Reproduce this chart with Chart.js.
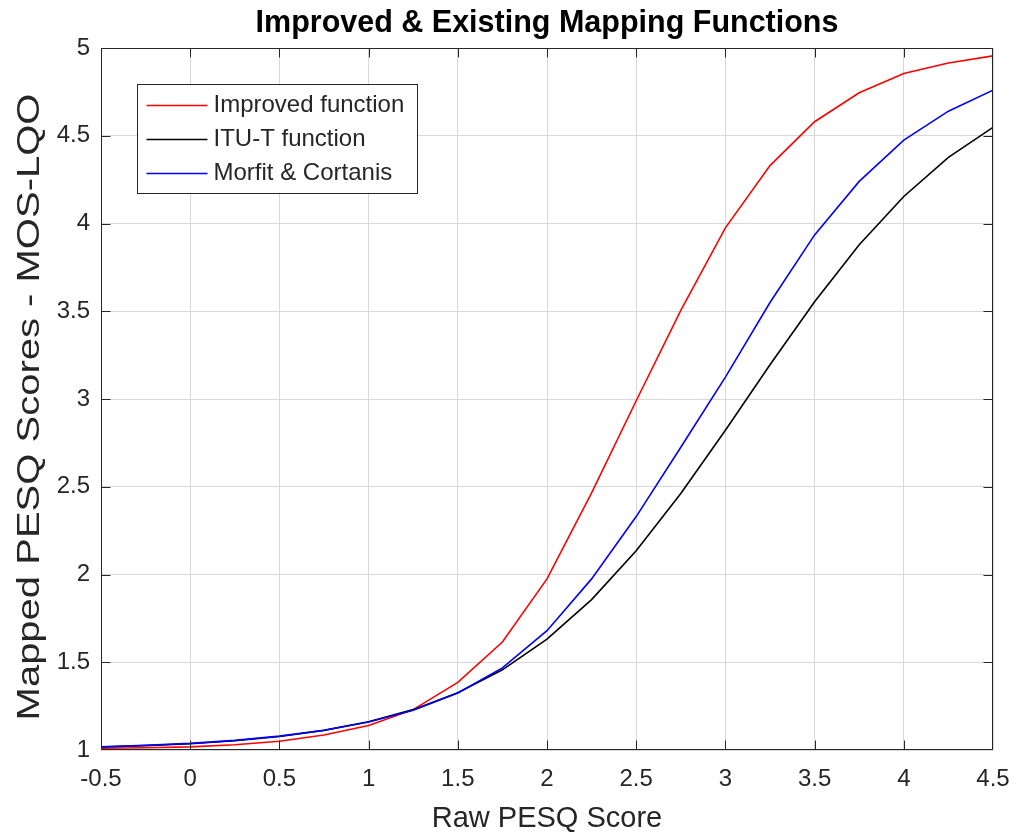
<!DOCTYPE html>
<html>
<head>
<meta charset="utf-8">
<script src="https://cdn.jsdelivr.net/npm/chart.js@4.4.1/dist/chart.umd.min.js"></script>
<style>
  html, body { margin: 0; padding: 0; background: #ffffff; }
  canvas { display: block; }
</style>
</head>
<body>
<canvas id="chart" width="1018" height="840"></canvas>
<script>
// Raw PESQ scores (x) and the mapped MOS-LQO values of each mapping function
const rawPesq = [-0.5, -0.25, 0, 0.25, 0.5, 0.75, 1, 1.25, 1.5, 1.75, 2, 2.25, 2.5, 2.75, 3, 3.25, 3.5, 3.75, 4, 4.25, 4.5];
const improvedMos = [1.010, 1.013, 1.018, 1.030, 1.050, 1.085, 1.140, 1.230, 1.385, 1.615, 1.975, 2.465, 2.990, 3.505, 3.975, 4.330, 4.580, 4.745, 4.855, 4.915, 4.955];
const ituMos      = [1.017, 1.025, 1.036, 1.053, 1.077, 1.112, 1.161, 1.230, 1.326, 1.457, 1.632, 1.857, 2.135, 2.462, 2.822, 3.195, 3.554, 3.879, 4.154, 4.377, 4.548];
const morfitMos   = [1.018, 1.027, 1.038, 1.055, 1.079, 1.113, 1.160, 1.226, 1.325, 1.468, 1.680, 1.975, 2.330, 2.725, 3.125, 3.550, 3.935, 4.240, 4.475, 4.640, 4.760];

const seriesNames  = ['Improved function', 'ITU-T function', 'Morfit & Cortanis'];
const seriesColors = ['#ff0000', '#000000', '#0000ff'];

const xTickValues = [-0.5, 0, 0.5, 1, 1.5, 2, 2.5, 3, 3.5, 4, 4.5];
const yTickValues = [1, 1.5, 2, 2.5, 3, 3.5, 4, 4.5, 5];

const FONT = '"Liberation Sans", Arial, Helvetica, sans-serif';
const TEXT_COLOR = '#262626';

function toPoints(ys) {
  return rawPesq.map((x, i) => ({ x: x, y: ys[i] }));
}

// Axes box with inward tick marks on all four sides
const frameBox = {
  id: 'frameBox',
  afterDatasetsDraw(chart) {
    const { ctx, chartArea: a, scales: { x, y } } = chart;
    const L = Math.round(a.left) + 0.5, R = Math.round(a.right) - 0.5;
    const T = Math.round(a.top) + 0.5, B = Math.round(a.bottom) - 0.5;
    const clamp = (v, lo, hi) => Math.min(Math.max(v, lo), hi);
    const len = 9;
    ctx.save();
    ctx.strokeStyle = TEXT_COLOR;
    ctx.lineWidth = 1;
    ctx.beginPath();
    ctx.rect(L, T, R - L, B - T);
    x.ticks.forEach(t => {
      const px = clamp(Math.round(x.getPixelForValue(t.value)) + 0.5, L, R);
      ctx.moveTo(px, B); ctx.lineTo(px, B - len);
      ctx.moveTo(px, T); ctx.lineTo(px, T + len);
    });
    y.ticks.forEach(t => {
      const py = clamp(Math.round(y.getPixelForValue(t.value)) + 0.5, T, B);
      ctx.moveTo(L, py); ctx.lineTo(L + len, py);
      ctx.moveTo(R, py); ctx.lineTo(R - len, py);
    });
    ctx.stroke();
    ctx.restore();
  }
};

// Vertical axis title, drawn in a tall narrow face along the left edge
const yAxisTitle = {
  id: 'yAxisTitle',
  afterDraw(chart) {
    const t = chart.options.scales.y.title;
    const { ctx, chartArea: a } = chart;
    ctx.save();
    ctx.translate(30, (a.top + a.bottom) / 2 + 8);
    ctx.rotate(-Math.PI / 2);
    ctx.scale(1.25, 1);
    ctx.font = '32px ' + FONT;
    ctx.fillStyle = t.color;
    ctx.textAlign = 'center';
    ctx.textBaseline = 'middle';
    ctx.fillText(t.text, 0, 0);
    ctx.restore();
  }
};

// Boxed legend in the upper-left corner of the plot
const boxLegend = {
  id: 'boxLegend',
  afterDraw(chart) {
    const { ctx, chartArea: a } = chart;
    const left = Math.round(a.left) + 36.5, top = Math.round(a.top) + 36.5;
    const w = 280, h = 109, row = 34;
    ctx.save();
    ctx.fillStyle = '#ffffff';
    ctx.fillRect(left, top, w, h);
    ctx.strokeStyle = TEXT_COLOR;
    ctx.lineWidth = 1;
    ctx.strokeRect(left, top, w, h);
    ctx.font = '24px ' + FONT;
    ctx.textBaseline = 'middle';
    ctx.textAlign = 'left';
    chart.data.datasets.forEach((ds, i) => {
      const cy = Math.round(top + 20 + i * row) + 0.5;
      ctx.strokeStyle = ds.borderColor;
      ctx.lineWidth = 1.5;
      ctx.beginPath();
      ctx.moveTo(left + 9, cy);
      ctx.lineTo(left + 70, cy);
      ctx.stroke();
      ctx.fillStyle = TEXT_COLOR;
      ctx.fillText(ds.label, left + 76, cy);
    });
    ctx.restore();
  }
};

const seriesData = [improvedMos, ituMos, morfitMos];

new Chart(document.getElementById('chart'), {
  type: 'line',
  data: {
    datasets: seriesData.map((ys, i) => ({
      label: seriesNames[i],
      data: toPoints(ys),
      borderColor: seriesColors[i],
      backgroundColor: seriesColors[i],
      borderWidth: 1.6,
      pointRadius: 0,
      tension: 0,
      fill: false,
      order: 2 - i
    }))
  },
  options: {
    responsive: false,
    animation: false,
    devicePixelRatio: 1,
    layout: { padding: { left: 0, right: 25, top: 0, bottom: 0 } },
    plugins: {
      legend: { display: false },
      tooltip: { enabled: false },
      title: {
        display: true,
        text: 'Improved & Existing Mapping Functions',
        fullSize: false,
        color: '#000000',
        font: { family: FONT, size: 30.5, weight: 'bold' },
        padding: { top: 5, bottom: 6.4 }
      }
    },
    scales: {
      x: {
        type: 'linear',
        min: -0.5,
        max: 4.5,
        afterBuildTicks: s => { s.ticks = xTickValues.map(v => ({ value: v })); },
        afterFit: s => { s.height = 90; s.paddingLeft = 0; s.paddingRight = 0; },
        grid: { color: '#d8d8d8', lineWidth: 1, drawTicks: false },
        border: { display: false },
        ticks: { color: TEXT_COLOR, font: { family: FONT, size: 24 }, padding: 15, maxRotation: 0, callback: v => String(v) },
        title: {
          display: true,
          text: 'Raw PESQ Score',
          color: TEXT_COLOR,
          font: { family: FONT, size: 29 },
          padding: { top: 0, bottom: 3.6 }
        }
      },
      y: {
        type: 'linear',
        min: 1,
        max: 5,
        afterBuildTicks: s => { s.ticks = yTickValues.map(v => ({ value: v })); },
        afterFit: s => { s.width = 101; },
        grid: { color: '#d8d8d8', lineWidth: 1, drawTicks: false },
        border: { display: false },
        ticks: { color: TEXT_COLOR, font: { family: FONT, size: 24 }, padding: 11, callback: v => String(v) },
        title: {
          display: false,
          text: 'Mapped PESQ Scores - MOS-LQO',
          color: TEXT_COLOR
        }
      }
    }
  },
  plugins: [frameBox, yAxisTitle, boxLegend]
});
</script>
</body>
</html>
